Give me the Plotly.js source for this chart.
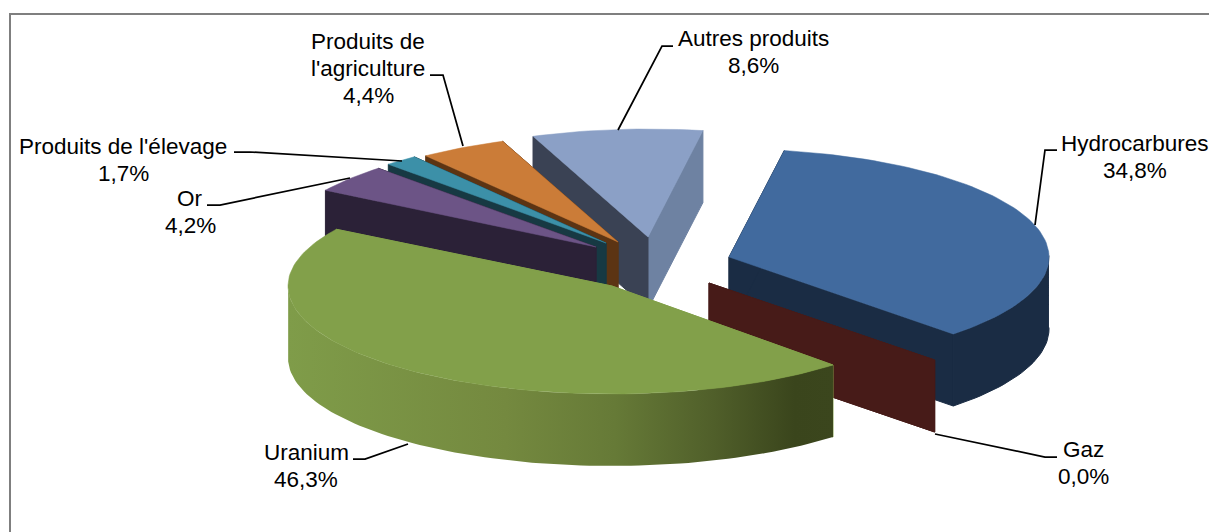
<!DOCTYPE html>
<html><head><meta charset="utf-8">
<script src="https://cdn.plot.ly/plotly-3.0.1.min.js"></script>
<style>html,body{margin:0;padding:0;background:#fff}#c{width:1209px;height:532px}</style>
</head><body><div id="c"></div>
<script>
// Data, in the chart's own clockwise order starting at the Uranium slice
const categories = ['Uranium','Or',"Produits de l'élevage",'Produits de<br>l\'agriculture','Autres produits','Hydrocarbures','Gaz'];
const values = [46.3,4.2,1.7,4.4,8.6,34.8,0.0];

// Colours per slice
const topColors  = ['#82A04A','#6C5486','#3C90A8','#CB7C38','#8BA0C6','#416A9E','#471B18'];
const wallColors = ['#82A04A','#2B2137','#173943','#5C3413','#3A4254','#1A2C44','#471B18'];
const endWallColors = ['#82A04A','#2B2137','#173943','#5C3413','#6E82A2','#1A2C44','#471B18'];

// Projection of the tilted pie, in pixel-like axis units
const RY = 108, DEPTH = 72, START_DEG = 47;
const radiusX = [324,318,318,319,318,320,322];
const apexX = [612,596,606,618,648,729,709];
const apexY = [286,247,243,242,237,257,283];
const paintOrder = [4,3,2,1,5,6,0];
const labelX = [306,190,123,368,753,1135,1083];
const labelY = [452,198,146,41,38,143,449];
const LINE_STEP = 27;
const leaders = [
  [[353,365,408],[459,459,444]],
  [[207,220,350],[205,205,178]],
  [[234,250,402],[152,152,161]],
  [[430,443,463],[75,75,146]],
  [[673,662,618],[46,46,130]],
  [[1057,1045,1035],[150,150,225]],
  [[935,1045,1057],[434,457,457]]
];

const rad = d => d*Math.PI/180;
// mild perspective warp of the sweep
const warp = t => t - 2*Math.sin((t-START_DEG)*Math.PI/360) - (t>360 ? 1.5*(t-360)/47 : 0);
const traces = [];
function face(xs, ys, color, extra){
  traces.push(Object.assign({type:'scatter',mode:'lines',x:xs,y:ys,fill:'toself',fillcolor:color,
    line:{width:1,color:color},hoverinfo:'skip',showlegend:false}, extra||{}));
}
function pt(i,t,dy){ const w=warp(t); return [apexX[i]+radiusX[i]*Math.cos(rad(w)), apexY[i]+RY*Math.sin(rad(w))+(dy||0)]; }
function wall(i,t,color){
  const p = pt(i,t);
  face([apexX[i],p[0],p[0],apexX[i],apexX[i]],[apexY[i],p[1],p[1]+DEPTH,apexY[i]+DEPTH,apexY[i]],color);
}
function arc(i,a,b,dy){
  const n = Math.max(2,Math.ceil(Math.abs(b-a)/1.5)), xs=[], ys=[];
  for(let k=0;k<=n;k++){ const p = pt(i,a+(b-a)*k/n,dy); xs.push(p[0]); ys.push(p[1]); }
  return [xs,ys];
}
// slice angles from the values
const t0=[], t1=[]; let acc = START_DEG;
values.forEach((v,i)=>{ t0[i]=acc; acc+=v*3.6; t1[i]=acc; });
t0[6]=t1[6]=START_DEG+360;

const sideGradient = {type:'horizontal',colorscale:[[0,'#7F9C49'],[0.4,'#74893F'],[0.6,'#667A37'],[0.78,'#505F2A'],[0.93,'#3A451C'],[1,'#3B461D']]};

paintOrder.forEach(i=>{
  wall(i,t1[i],endWallColors[i]);
  wall(i,t0[i],wallColors[i]);
  // front rim: part of the sweep with sin(t) > 0
  [[0,180],[360,540]].forEach(r=>{
    const a=Math.max(t0[i],r[0]), b=Math.min(t1[i],r[1]);
    if(b>a){
      const up=arc(i,a,b,0), dn=arc(i,b,a,DEPTH);
      const xs=up[0].concat(dn[0]), ys=up[1].concat(dn[1]);
      if(i===0) face(xs,ys,'#7F9C49',{fillgradient:sideGradient,line:{width:0}});
      else face(xs,ys,wallColors[i]);
    }
  });
  if(t1[i]>t0[i]){
    const a=arc(i,t0[i],t1[i],0);
    face([apexX[i]].concat(a[0],[apexX[i]]),[apexY[i]].concat(a[1],[apexY[i]]),topColors[i],{line:{width:0.5,color:topColors[i]}});
  }
});

leaders.forEach(l=>traces.push({type:'scatter',mode:'lines',x:l[0],y:l[1],line:{color:'#000',width:1.75},hoverinfo:'skip',showlegend:false}));

const annotations = [];
categories.forEach((c,i)=>{
  c.split('<br>').concat([values[i].toFixed(1).replace('.',',')+'%']).forEach((line,k)=>{
    annotations.push({x:labelX[i],y:labelY[i]+k*LINE_STEP,xref:'x',yref:'y',showarrow:false,xanchor:'center',yanchor:'middle',align:'center',
      text:line,font:{family:'Liberation Sans, Arial, sans-serif',size:22.5,color:'#000'}});
  });
});

const layout = {
  width:1209,height:532,margin:{l:0,r:0,t:0,b:0},paper_bgcolor:'#fff',plot_bgcolor:'#fff',showlegend:false,
  xaxis:{range:[0,1209],visible:false,fixedrange:true},
  yaxis:{range:[532,0],visible:false,fixedrange:true},
  annotations,
  shapes:[{type:'path',xref:'x',yref:'y',path:'M 10 540 L 10 14 L 1220 14',line:{color:'#7F7F7F',width:2}}]
};
Plotly.newPlot('c',traces,layout,{displayModeBar:false,staticPlot:true});
</script></body></html>
